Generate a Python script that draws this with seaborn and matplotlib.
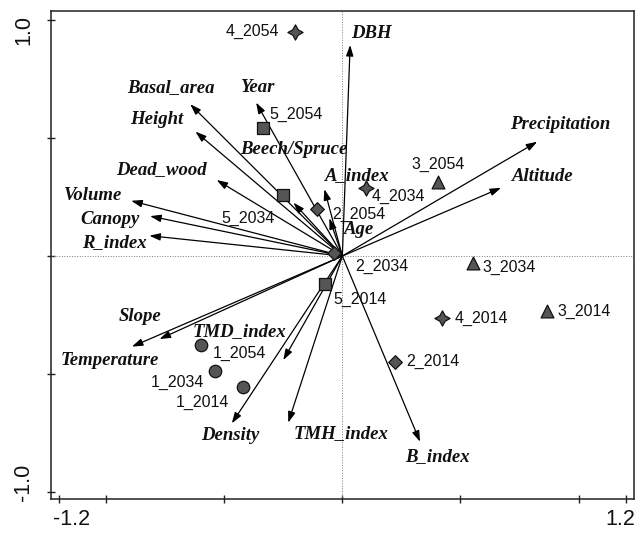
import matplotlib
matplotlib.use("Agg")
import matplotlib.pyplot as plt
import matplotlib.transforms as mtransforms
import seaborn as sns
import pandas as pd

# Explanatory variables (biplot arrows)
env_names = ["DBH", "Basal_area", "Year", "Height", "Beech/Spruce", "Dead_wood",
             "Volume", "Canopy", "R_index", "A_index", "Age", "Precipitation",
             "Altitude", "Slope", "Temperature", "TMD_index", "Density",
             "TMH_index", "B_index"]
env_x = [0.033, -0.644, -0.365, -0.622, -0.207, -0.532, -0.894, -0.814, -0.817,
         -0.076, -0.055, 0.825, 0.672, -0.774, -0.891, -0.250, -0.468, -0.229, 0.329]
env_y = [0.894, 0.643, 0.650, 0.527, 0.226, 0.322, 0.234, 0.169, 0.086,
         0.283, 0.160, 0.484, 0.289, -0.352, -0.384, -0.441, -0.709, -0.706, -0.787]

# Sites (plot_year)
site_names = ["1_2014", "1_2034", "1_2054", "2_2014", "2_2034", "2_2054",
              "3_2014", "3_2034", "3_2054", "4_2014", "4_2034", "4_2054",
              "5_2014", "5_2034", "5_2054"]
site_group = ["1", "1", "1", "2", "2", "2", "3", "3", "3", "4", "4", "4", "5", "5", "5"]
site_x = [-0.419, -0.539, -0.599, 0.223, -0.034, -0.108, 0.865, 0.554, 0.406,
          0.421, 0.099, -0.200, -0.073, -0.252, -0.334]
site_y = [-0.556, -0.486, -0.377, -0.448, 0.014, 0.198, -0.232, -0.031, 0.315,
          -0.264, 0.287, 0.950, -0.119, 0.258, 0.544]

# Label placement (pixel offsets from arrow tip / marker centre)
env_label_off = [(21.7, 12), (-19.5, 16.6), (1, 15), (-38.3, 11.7), (0, 52.7),
                 (-55.7, 10), (-38, 5), (-40, -3), (-34.6, -6.6), (32.7, 13.3),
                 (29.7, -11), (22.7, 17.7), (41.5, 11), (-19.8, 22.3), (-22, -14),
                 (-43.3, 28.3), (-1.7, -12.4), (52.7, -10.6), (17.5, -15)]
site_label_off = [(-40.8, -15.4, "center"), (-38, -12, "center"), (12.3, -8, "left"),
                  (11, 0, "left"), (21, -14, "left"), (15, -4.7, "left"),
                  (11, -1, "left"), (9.7, -3.7, "left"), (0, 17.7, "center"),
                  (13.3, 0, "left"), (6, -7.7, "left"), (-15.7, 0, "right"),
                  (8, -15, "left"), (-34.7, -23, "center"), (6, 12.7, "left")]

group_markers = {"1": "o", "2": "D", "3": "^", "4": (4, 1, 0), "5": "s"}
group_sizes = {"1": 80, "2": 48, "3": 85, "4": 120, "5": 72}

sns.set_theme(style="white")
plt.rcParams["font.family"] = ["Liberation Sans", "DejaVu Sans"]

fig = plt.figure(figsize=(6.43, 5.33), dpi=100)
ax = fig.add_axes([0.0788, 0.0632, 0.9076, 0.9161])

# zero reference lines
ax.axhline(0, color="#7a7a7a", lw=0.7, ls=":", zorder=1)
ax.axvline(0, color="#7a7a7a", lw=0.7, ls=":", zorder=1)

label_font = dict(family="Liberation Serif", weight="bold", style="italic",
                  size=13.5, color="#111111")
for name, x, y, (dx, dy) in zip(env_names, env_x, env_y, env_label_off):
    ax.annotate("", xy=(x, y), xytext=(0, 0),
                arrowprops=dict(arrowstyle="-|>,head_length=0.65,head_width=0.22",
                                mutation_scale=10, lw=0.9, color="black",
                                shrinkA=0, shrinkB=0), zorder=2)
    ax.annotate(name, xy=(x, y), xytext=(dx, dy), textcoords="offset pixels",
                ha="center", va="center", zorder=4, **label_font)

sites = pd.DataFrame({"site": site_names, "group": site_group,
                      "x": site_x, "y": site_y})
for g, sub in sites.groupby("group"):
    sns.scatterplot(data=sub, x="x", y="y", marker=group_markers[g],
                    s=group_sizes[g], color="#555555", edgecolor="#111111",
                    linewidth=0.9, ax=ax, zorder=3, legend=False)

for name, x, y, (dx, dy, ha) in zip(site_names, site_x, site_y, site_label_off):
    ax.annotate(name, xy=(x, y), xytext=(dx, dy), textcoords="offset pixels",
                ha=ha, va="center", fontsize=11.5, color="#111111", zorder=4)

ax.set_xlim(-1.235, 1.236)
ax.set_ylim(-1.031, 1.038)
ax.set_xlabel("")
ax.set_ylabel("")

ax.set_xticks([-1.2, -1.0, -0.5, 0, 0.5, 1.0, 1.2])
ax.set_xticklabels(["-1.2", "", "", "", "", "", "1.2"])
ax.set_yticks([-1.0, -0.5, 0, 0.5, 1.0])
ax.set_yticklabels(["-1.0", "", "", "", "1.0"], rotation=90, va="center")

ax.tick_params(axis="both", direction="inout", length=6, width=1.0,
               bottom=True, left=True, color="#222222",
               labelsize=15.5, labelcolor="#111111")
ax.tick_params(axis="x", pad=4)
ax.tick_params(axis="y", pad=9)

for sp in ax.spines.values():
    sp.set_linewidth(1.1)
    sp.set_color("#222222")

# nudge the outer tick labels inward
xl = ax.get_xticklabels()
xl[0].set_transform(xl[0].get_transform() + mtransforms.ScaledTranslation(13 / 100, 0, fig.dpi_scale_trans))
xl[-1].set_transform(xl[-1].get_transform() + mtransforms.ScaledTranslation(-5 / 100, 0, fig.dpi_scale_trans))
yl = ax.get_yticklabels()
yl[0].set_transform(yl[0].get_transform() + mtransforms.ScaledTranslation(0, 10 / 100, fig.dpi_scale_trans))
yl[-1].set_transform(yl[-1].get_transform() + mtransforms.ScaledTranslation(0, -10 / 100, fig.dpi_scale_trans))

fig.savefig("out.png", dpi=100)
